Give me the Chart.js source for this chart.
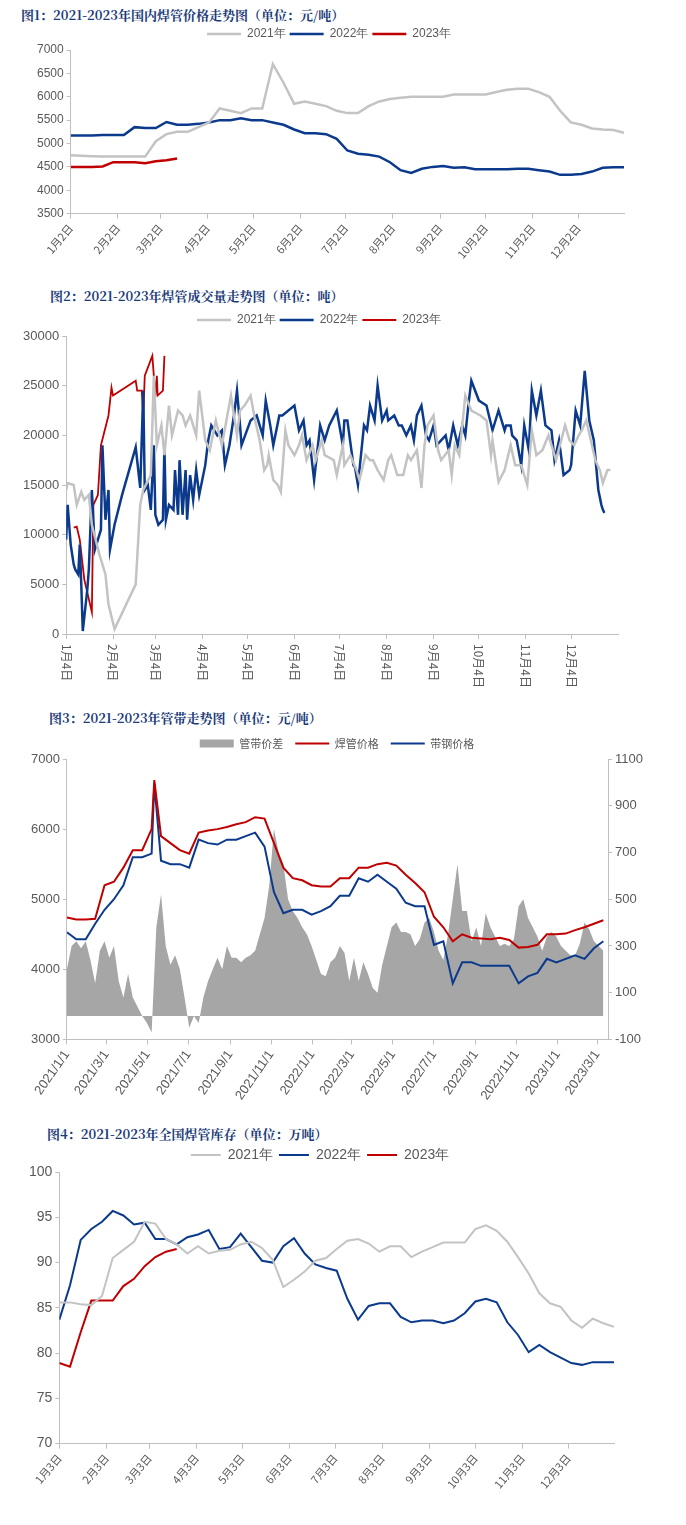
<!DOCTYPE html>
<html><head><meta charset="utf-8">
<script src="https://cdn.jsdelivr.net/npm/chart.js@4.4.0/dist/chart.umd.min.js"></script>
<style>
body{margin:0;background:#fff;width:686px;height:1525px;position:relative;font-family:"Noto Sans CJK SC",sans-serif}
.t{position:absolute;left:22px;font-weight:bold;font-size:13px;color:#1a3a78;font-family:"Noto Serif CJK SC","Noto Sans CJK SC",serif}
.box{position:absolute;left:0;width:686px}
</style></head><body>
<div class="t" style="top:5px;left:21px">图1：2021-2023年国内焊管价格走势图（单位：元/吨）</div>
<div class="box" style="top:24px;height:240px"><canvas id="c1"></canvas></div>
<div class="t" style="top:286px;left:50px">图2：2021-2023年焊管成交量走势图（单位：吨）</div>
<div class="box" style="top:300px;height:395px"><canvas id="c2"></canvas></div>
<div class="t" style="top:708px;left:49px">图3：2021-2023年管带走势图（单位：元/吨）</div>
<div class="box" style="top:726px;height:380px"><canvas id="c3"></canvas></div>
<div class="t" style="top:1124px;left:47px">图4：2021-2023年全国焊管库存（单位：万吨）</div>
<div class="box" style="top:1142px;height:352px"><canvas id="c4"></canvas></div>
<script>
// 通用月份刻度 (距年初天数)
const monthDays = [0,31,59,90,120,151,181,212,243,273,304,334];
const labels1 = ['1月2日','2月2日','3月2日','4月2日','5月2日','6月2日','7月2日','8月2日','9月2日','10月2日','11月2日','12月2日'];
const labels2 = ['1月4日','2月4日','3月4日','4月4日','5月4日','6月4日','7月4日','8月4日','9月4日','10月4日','11月4日','12月4日'];
const labels4 = ['1月3日','2月3日','3月3日','4月3日','5月3日','6月3日','7月3日','8月3日','9月3日','10月3日','11月3日','12月3日'];

// 图1 焊管价格 (周度)
const price21 = [4750,4740,4730,4720,4720,4720,4720,4720,5050,5200,5250,5250,5350,5450,5750,5700,5650,5750,5750,6700,6300,5850,5900,5850,5800,5700,5650,5650,5800,5900,5950,5980,6000,6000,6000,6000,6050,6050,6050,6050,6100,6150,6170,6170,6100,6000,5700,5450,5400,5320,5300,5290,5230];
const price22 = [5170,5170,5170,5180,5180,5180,5350,5330,5330,5460,5400,5400,5420,5450,5500,5500,5540,5500,5500,5450,5400,5300,5220,5220,5200,5100,4850,4780,4760,4720,4600,4430,4370,4460,4500,4520,4480,4490,4450,4450,4450,4450,4460,4460,4430,4400,4330,4330,4350,4400,4480,4490,4490];
const price23 = [4500,4500,4500,4510,4600,4600,4600,4580,4620,4640,4680];

// 图2 成交量 (天, 吨)
const vol21Days = [0,1,5,7,10,12,15,17,22,26,28,32,46,49,51,56,58,60,63,65,68,70,74,77,79,82,86,88,92,95,99,103,106,109,113,115,118,122,125,128,131,133,134,137,140,142,145,147,151,154,156,159,163,165,169,171,177,179,183,184,188,192,194,198,201,203,206,210,213,215,219,223,226,228,232,235,237,239,243,246,248,253,255,257,260,264,268,274,278,281,282,286,290,294,297,301,305,308,311,315,319,323,324,330,333,336,339,341,344,347,350,353,355,358,360];
const vol21 = [14500,15200,15000,13000,14300,13500,14000,11000,8000,6000,3000,500,5000,13000,14500,16000,26000,19000,21000,18000,23000,20000,22500,22000,21000,22000,20000,24500,19500,18500,21500,19000,21500,24000,20000,22500,23000,24000,21500,19500,16500,17000,18000,15500,15000,14300,20500,19000,18000,19000,20000,17500,19000,17500,19500,18000,17500,16000,19000,17000,18000,16500,15500,18000,17500,17500,16500,15500,17500,18000,16000,16000,18000,17500,18500,14700,19000,21000,22000,18500,17500,18500,16000,19000,18000,24000,22500,22000,21500,18000,19500,15300,16500,19000,17000,17000,15000,20500,18000,18500,20000,18000,17500,21000,19500,19000,20000,20500,21500,19500,17500,16500,15200,16500,16500];
const vol22Days = [0,1,3,5,6,8,9,10,11,14,15,17,19,21,23,24,26,28,29,32,37,46,49,51,52,54,56,58,59,61,64,65,66,68,71,72,74,75,77,79,80,82,84,86,88,92,94,96,100,103,105,108,111,113,115,116,122,126,128,130,132,135,137,141,143,151,154,157,159,161,164,168,171,174,179,183,184,186,190,191,193,197,199,201,204,206,209,212,213,217,220,222,225,228,230,232,235,238,240,243,245,248,251,253,256,259,262,264,266,268,273,278,282,286,290,291,294,295,298,301,303,306,308,311,314,317,321,323,326,329,333,334,337,340,343,346,349,352,354,355,356];
const vol22 = [9500,13000,9000,7000,6500,6000,9000,5000,300,4500,6500,14500,8500,9500,10500,19000,11500,14500,8500,11000,14000,18800,14700,24500,14500,15000,12500,19000,12000,11000,11500,19000,11500,13000,12500,16500,12000,17500,12000,16500,11500,16000,13500,16500,14000,17000,19500,21000,20000,20500,17000,19000,22000,24500,21000,19000,21500,22000,21000,20000,23500,21000,19000,22000,22000,23000,20500,21500,19000,19500,15500,21000,19500,21000,22500,19000,21500,21500,17000,16800,15000,21000,20500,23000,21500,25000,21500,22500,21500,22000,21000,21000,20000,21000,19500,22000,23000,20000,19500,21000,19000,19500,20000,18500,21000,19000,21000,20000,23000,25500,23500,23000,20500,22500,20500,21000,21000,20000,19500,17000,21000,18500,24500,22000,24500,21000,20500,17500,19500,16000,16500,17000,22500,21000,26500,21500,19500,14500,13000,12500,12200,11600,12000];
const vol23Days = [5,7,9,12,17,18,21,23,28,30,31,46,47,50,51,52,57,59,60,60.5,64,65];
const vol23 = [10700,10800,9500,5500,2200,13000,14000,19000,22000,24800,24000,25500,24500,24500,22000,26000,28000,24000,26000,24000,24500,28000];

// 图3 管带 (距2021/1/1天数)
const bandTicks = [0,59,120,181,243,304,365,424,485,546,608,669,730,789];
const bandLabels = ['2021/1/1','2021/3/1','2021/5/1','2021/7/1','2021/9/1','2021/11/1','2022/1/1','2022/3/1','2022/5/1','2022/7/1','2022/9/1','2022/11/1','2023/1/1','2023/3/1'];
const bandDays = [0,14,28,42,56,70,84,98,112,126,130,140,154,168,182,196,210,224,238,252,266,280,294,308,322,336,350,364,378,392,406,420,434,448,462,476,490,504,518,532,546,560,574,588,602,616,630,644,658,672,686,700,714,728,742,756,770,784,798];
const weldPrice = [4740,4710,4710,4720,5200,5250,5450,5700,5700,6000,6700,5900,5800,5700,5650,5950,5980,6000,6030,6070,6100,6170,6150,5800,5450,5300,5270,5200,5180,5180,5300,5300,5450,5450,5500,5520,5480,5350,5230,5100,4750,4600,4400,4500,4450,4440,4430,4450,4420,4310,4320,4350,4500,4500,4510,4560,4600,4650,4700];
const stripPrice = [4530,4430,4430,4650,4850,5000,5200,5600,5600,5650,6650,5550,5500,5500,5450,5850,5800,5780,5850,5850,5900,5950,5750,5100,4800,4850,4850,4780,4830,4900,5050,5050,5300,5250,5350,5250,5150,4950,4900,4900,4350,4400,3800,4100,4100,4050,4050,4050,4050,3800,3900,3950,4150,4100,4150,4200,4150,4300,4400];
// 管带价差 (每7天)
const spread = [200,300,320,290,320,240,140,280,320,250,300,150,80,180,80,40,0,-30,-70,380,520,300,220,260,200,80,-50,0,-30,80,150,200,250,200,300,250,250,230,250,260,280,350,420,560,800,700,650,500,450,420,380,350,300,240,180,170,230,250,300,270,150,250,150,230,180,120,100,220,300,380,400,360,360,350,300,330,400,420,360,280,240,350,500,650,450,450,320,380,300,440,380,340,300,310,300,330,470,500,420,380,340,280,340,360,340,300,280,260,260,310,400,370,320,300,280];

// 图4 库存 (周度, 万吨)
const stock21 = [85.6,85.6,85.4,85.3,86.3,90.5,91.4,92.3,94.5,94.3,92.6,92.0,91.0,91.8,91.0,91.3,91.4,92.0,92.3,91.6,90.3,87.3,88.1,89.0,90.2,90.5,91.5,92.4,92.6,92.1,91.2,91.8,91.8,90.6,91.2,91.7,92.2,92.2,92.2,93.7,94.1,93.5,92.3,90.6,88.8,86.6,85.5,85.1,83.6,82.8,83.8,83.3,82.9];
const stock22 = [83.7,87.5,92.5,93.7,94.5,95.7,95.2,94.2,94.4,92.6,92.6,92.0,92.8,93.1,93.6,91.5,91.7,93.2,91.7,90.2,90.0,91.8,92.7,91.0,89.8,89.4,89.1,86.0,83.7,85.2,85.5,85.5,84.0,83.4,83.6,83.6,83.3,83.6,84.4,85.7,86.0,85.6,83.4,82.0,80.1,80.9,80.1,79.5,78.9,78.7,79.0,79.0,79.0];
const stock23 = [78.9,78.5,82.3,85.8,85.8,85.8,87.4,88.2,89.6,90.6,91.2,91.5];

const GRAY = '#c3c3c3', BLUE = '#0b3a8c', RED = '#c00000';
const tickFont = {family:'"Liberation Sans Narrow","Liberation Sans",sans-serif', size:13};
const legendFont = {family:'"Liberation Sans Narrow","Liberation Sans",sans-serif', size:12};
Chart.defaults.color = '#595959';
Chart.defaults.animation = false;
Chart.defaults.maintainAspectRatio = false;
Chart.defaults.elements.point.radius = 0;
Chart.defaults.elements.line.tension = 0;

function xy(xs, ys) { return ys.map((v, i) => ({x: xs[i], y: v})); }
function weekly(ys, step) { return ys.map((v, i) => ({x: i * step, y: v})); }
function line(label, data, color, w) {
    return {label, data, borderColor: color, backgroundColor: color, borderWidth: w, pointStyle: 'line', fill: false};
}
function legendOpts() {
    return {display: true, position: 'top', labels: {usePointStyle: true, pointStyleWidth: 34, boxHeight: 3, font: legendFont, color: '#595959', padding: 4}};
}
function monthAxis(lbls, rot, max) {
    return {
        type: 'linear', min: 0, max: max,
        afterBuildTicks: s => { s.ticks = monthDays.map(v => ({value: v})); },
        ticks: {callback: (v, i) => lbls[i], minRotation: rot, maxRotation: rot, font: {size: 11, family: '"Noto Sans CJK SC"'}, autoSkip: false},
        grid: {drawOnChartArea: false, tickLength: 5, color: '#bfbfbf'},
        border: {color: '#bfbfbf'}
    };
}
function yAxis(min, max, step, size) {
    return {min, max, ticks: {stepSize: step, callback: v => v, font: {family: tickFont.family, size: size || 13}, padding: 3},
        grid: {drawOnChartArea: false, tickLength: 4, color: '#bfbfbf'}, border: {color: '#bfbfbf'}};
}

// 图1
new Chart(document.getElementById('c1'), {
    type: 'line',
    data: {datasets: [line('2021年', weekly(price21, 7), GRAY, 2.5), line('2022年', weekly(price22, 7), BLUE, 2.5), line('2023年', weekly(price23, 7), RED, 2.5)]},
    options: {
        layout: {padding: {left: 34, right: 62, top: 0}},
        plugins: {legend: legendOpts(), tooltip: {enabled: false}},
        scales: {x: monthAxis(labels1, 50, 364), y: yAxis(3500, 7000, 500, 12)}
    }
});

// 图2 竖排日期标签
const vertLabels = {
    id: 'vertLabels',
    afterDraw(chart) {
        const s = chart.scales.x, ctx = chart.ctx;
        ctx.save();
        ctx.font = '12px "Noto Sans CJK SC"';
        ctx.fillStyle = '#595959';
        ctx.textBaseline = 'middle';
        monthDays.forEach((d, i) => {
            ctx.save();
            ctx.translate(s.getPixelForValue(d), s.top + 10);
            ctx.rotate(Math.PI / 2);
            ctx.fillText(labels2[i], 0, 0);
            ctx.restore();
        });
        ctx.restore();
    }
};
const x2 = monthAxis(labels2, 0, 365);
x2.ticks.display = false;
new Chart(document.getElementById('c2'), {
    type: 'line',
    data: {datasets: [line('2021年', xy(vol21Days, vol21), GRAY, 2.5), line('2022年', xy(vol22Days, vol22), BLUE, 2.5), line('2023年', xy(vol23Days, vol23), RED, 1.8)]},
    options: {
        layout: {padding: {left: 20, right: 68, top: 10, bottom: 56}},
        plugins: {legend: legendOpts(), tooltip: {enabled: false}},
        scales: {x: x2, y: yAxis(0, 30000, 5000)}
    },
    plugins: [vertLabels]
});

// 图3
new Chart(document.getElementById('c3'), {
    type: 'line',
    data: {datasets: [
        {label: '管带价差', data: weekly(spread, 7), yAxisID: 'y2', borderWidth: 0, backgroundColor: '#a6a6a6', borderColor: '#a6a6a6', fill: 'origin', pointStyle: 'rect', order: 3},
        Object.assign(line('焊管价格', xy(bandDays, weldPrice), RED, 2), {order: 1}),
        Object.assign(line('带钢价格', xy(bandDays, stripPrice), BLUE, 2), {order: 2})
    ]},
    options: {
        layout: {padding: {left: 28, right: 40, top: 0}},
        plugins: {legend: {labels: {usePointStyle: true, pointStyleWidth: 34, boxHeight: 8, font: {family: '"Noto Sans CJK SC"', size: 11}, padding: 12,
            sort: (a, b) => a.datasetIndex - b.datasetIndex}}, tooltip: {enabled: false}},
        scales: {
            x: {type: 'linear', min: 0, max: 805,
                afterBuildTicks: s => { s.ticks = bandTicks.map(v => ({value: v})); },
                ticks: {callback: (v, i) => bandLabels[i], minRotation: 55, maxRotation: 55, autoSkip: false, font: tickFont},
                grid: {drawOnChartArea: false, tickLength: 5, color: '#bfbfbf'}, border: {color: '#bfbfbf'}},
            y: yAxis(3000, 7000, 1000),
            y2: Object.assign(yAxis(-100, 1100, 200), {position: 'right'})
        }
    }
});

// 图4
new Chart(document.getElementById('c4'), {
    type: 'line',
    data: {datasets: [line('2021年', weekly(stock21, 7), GRAY, 2), line('2022年', weekly(stock22, 7), BLUE, 2), line('2023年', weekly(stock23, 7), RED, 2)]},
    options: {
        layout: {padding: {left: 26, right: 72, top: 0}},
        plugins: {legend: {labels: {usePointStyle: true, pointStyleWidth: 30, boxHeight: 3, font: {family: tickFont.family, size: 14}, padding: 6}}, tooltip: {enabled: false}},
        scales: {x: monthAxis(labels4, 50, 364), y: yAxis(70, 100, 5, 14)}
    }
});
</script>
</body></html>
